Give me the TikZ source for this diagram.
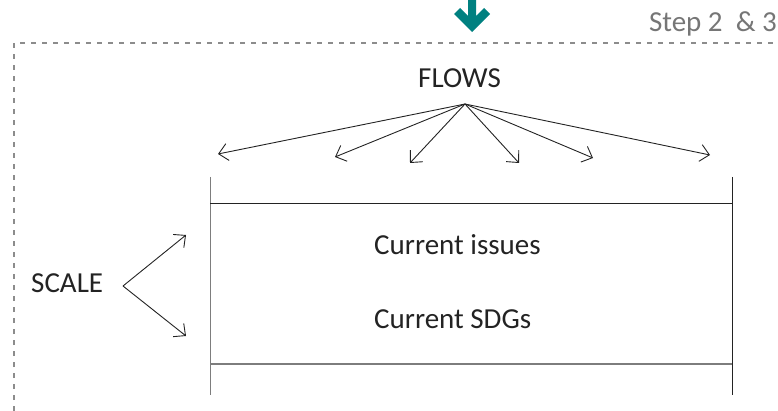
\documentclass[tikz,border=0pt]{standalone}
\usepackage{fontspec}
\setmainfont{Carlito}
\usetikzlibrary{arrows.meta}
\definecolor{stepteal}{RGB}{0,128,128}
\definecolor{stepgray}{RGB}{118,118,118}
\definecolor{dashgray}{RGB}{140,140,140}
\definecolor{linegray}{RGB}{125,125,125}
\definecolor{inkdark}{RGB}{35,35,35}

\begin{document}
\begin{tikzpicture}[x=1pt,y=-1pt,
    lbl/.style={inner sep=0pt,anchor=base west,font=\fontsize{29}{34}\selectfont,text=inkdark},
    flow/.style={-{Straight Barb[length=9pt,width=17pt]},line width=.9pt,inkdark}]
  \useasboundingbox (0,0) rectangle (778,411);
  % step arrow and frame
  \fill[stepteal] (468,0) -- (468,16) -- (460,8) -- (454,14) -- (472,32) -- (490,14) -- (484,8) -- (476,16) -- (476,0) -- cycle;
  \draw[dashgray,line width=1.2pt,dash pattern=on 5pt off 6pt] (14,411) -- (14,43) -- (778,43);
  \node[lbl,anchor=base east,text=stepgray] (step) at (777,32) {Step 2\ \ \& 3};
  % box
  \draw[linegray,line width=1pt] (210,177) -- (210,395);
  \draw[inkdark,line width=1pt] (732,177) -- (732,395);
  \draw[inkdark,line width=1pt] (210,204) -- (732,204);
  \draw[linegray,line width=1.2pt] (210,364) -- (732,364);
  \node[lbl] (issues) at (374,255) {Current issues};
  \node[lbl] (sdgs) at (374,328) {Current SDGs};
  % flows
  \node[lbl] (flows) at (418,88) {FLOWS};
  \coordinate (fc) at (465,104);
  \foreach \x/\y [count=\i] in {218/154,335/157,410/163,519/163,593/158,710/155}
    \coordinate (f\i) at (\x,\y);
  \foreach \i in {1,...,6}
    \draw[flow] (fc) -- (f\i);
  % scale
  \node[lbl] (scale) at (31,293) {SCALE};
  \coordinate (sc) at (123,286);
  \coordinate (s1) at (186,235);
  \coordinate (s2) at (186,336);
  \draw[flow] (sc) -- (s1);
  \draw[flow] (sc) -- (s2);
\end{tikzpicture}
\end{document}
